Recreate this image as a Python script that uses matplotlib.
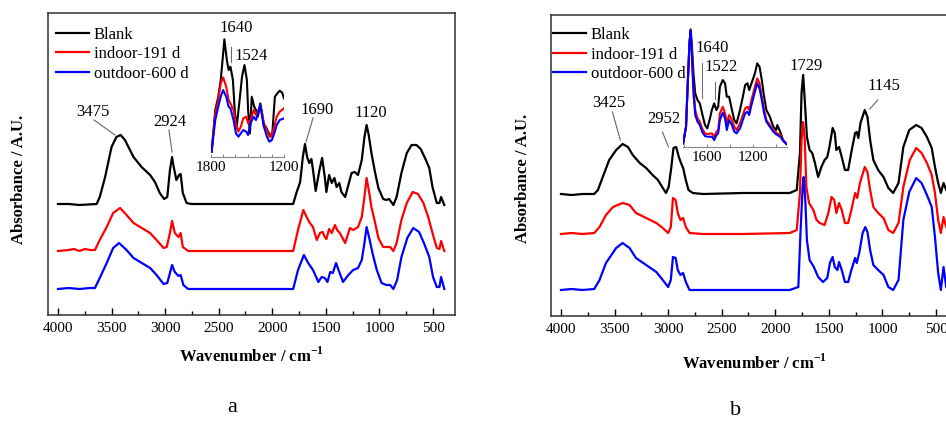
import matplotlib
matplotlib.use('Agg')
import matplotlib.pyplot as plt
from matplotlib.ticker import MultipleLocator, FixedLocator

plt.rcParams['font.family'] = ['Liberation Serif', 'DejaVu Serif']
plt.rcParams['mathtext.fontset'] = 'custom'
plt.rcParams['mathtext.rm'] = 'Liberation Serif'
plt.rcParams['mathtext.bf'] = 'Liberation Serif:bold'

labels = ['Blank', 'indoor-191 d', 'outdoor-600 d']
colors = ['black', 'red', 'blue']

# ---------------- panel a (main spectra, offset A.U.) ----------------
a_blank_wn = [4000, 3900, 3800, 3639, 3610, 3560, 3500, 3455, 3415, 3375, 3295, 3220, 3140, 3095, 3050,
              3010, 2980, 2955, 2935, 2920, 2895, 2870, 2855, 2835, 2800, 2755, 2300, 1805, 1775, 1740,
              1715, 1695, 1675, 1655, 1635, 1620, 1595, 1560, 1535, 1510, 1495, 1470, 1445, 1420, 1400,
              1375, 1355, 1320, 1290, 1260, 1230, 1200, 1165, 1140, 1120, 1100, 1075, 1040, 1010, 965,
              935, 910, 870, 840, 795, 745, 700, 655, 615, 575, 535, 505, 465, 440, 425, 395]
a_blank_y = [1.11, 1.11, 1.10, 1.11, 1.18, 1.38, 1.68, 1.78, 1.80, 1.75, 1.58, 1.48, 1.40, 1.33, 1.22,
             1.16, 1.18, 1.45, 1.58, 1.48, 1.35, 1.40, 1.41, 1.22, 1.12, 1.11, 1.11, 1.11, 1.22, 1.33,
             1.58, 1.71, 1.58, 1.52, 1.56, 1.45, 1.24, 1.45, 1.57, 1.38, 1.23, 1.40, 1.32, 1.37, 1.28,
             1.32, 1.23, 1.18, 1.30, 1.42, 1.43, 1.40, 1.55, 1.78, 1.90, 1.80, 1.62, 1.42, 1.27, 1.16,
             1.15, 1.16, 1.10, 1.18, 1.42, 1.62, 1.70, 1.70, 1.66, 1.57, 1.47, 1.28, 1.12, 1.12, 1.18, 1.10]

a_indoor_wn = [4000, 3900, 3850, 3800, 3750, 3700, 3655, 3610, 3545, 3485, 3420, 3360, 3295, 3140, 3080,
               3015, 2985, 2955, 2935, 2910, 2875, 2855, 2835, 2785, 2300, 1805, 1760, 1710, 1680, 1650,
               1620, 1585, 1555, 1530, 1510, 1495, 1470, 1445, 1415, 1395, 1370, 1320, 1290, 1275, 1245,
               1200, 1165, 1140, 1120, 1095, 1075, 1040, 1010, 965, 935, 900, 870, 840, 795, 745, 690,
               640, 590, 545, 505, 465, 440, 425, 395]
a_indoor_y = [0.64, 0.65, 0.66, 0.64, 0.66, 0.65, 0.65, 0.75, 0.88, 1.02, 1.07, 1.00, 0.92, 0.82, 0.75,
              0.67, 0.68, 0.82, 0.94, 0.82, 0.78, 0.82, 0.68, 0.64, 0.64, 0.64, 0.85, 1.05, 0.98, 0.92,
              0.88, 0.75, 0.82, 0.83, 0.78, 0.76, 0.86, 0.82, 0.90, 0.85, 0.82, 0.72, 0.82, 0.87, 0.85,
              0.88, 0.98, 1.18, 1.37, 1.22, 1.08, 0.92, 0.77, 0.68, 0.68, 0.68, 0.64, 0.72, 0.95, 1.12, 1.23,
              1.21, 1.12, 0.98, 0.82, 0.67, 0.66, 0.74, 0.64]

a_outdoor_wn = [4000, 3900, 3800, 3700, 3655, 3610, 3545, 3485, 3430, 3360, 3295, 3140, 3080, 3015, 2980,
                2955, 2935, 2910, 2875, 2855, 2830, 2785, 2300, 1805, 1760, 1705, 1665, 1620, 1570, 1540,
                1510, 1485, 1460, 1435, 1405, 1375, 1340, 1290, 1245, 1200, 1165, 1140, 1120, 1095, 1065,
                1025, 980, 935, 900, 870, 835, 795, 740, 685, 630, 585, 535, 500, 465, 440, 425, 395]
a_outdoor_y = [0.26, 0.27, 0.26, 0.27, 0.27, 0.37, 0.52, 0.67, 0.72, 0.65, 0.57, 0.47, 0.40, 0.31, 0.32,
               0.42, 0.50, 0.43, 0.39, 0.40, 0.30, 0.26, 0.26, 0.26, 0.45, 0.60, 0.52, 0.45, 0.33, 0.38,
               0.37, 0.33, 0.43, 0.42, 0.52, 0.43, 0.33, 0.40, 0.45, 0.47, 0.55, 0.72, 0.88, 0.77, 0.62,
               0.45, 0.32, 0.30, 0.30, 0.26, 0.35, 0.58, 0.77, 0.87, 0.83, 0.72, 0.58, 0.38, 0.28, 0.28, 0.38, 0.26]

# panel a inset (1800-1200 cm-1)
ai_blank_wn = [1795, 1765, 1740, 1720, 1705, 1690, 1670, 1655, 1640, 1620, 1605, 1590, 1565, 1545, 1525,
               1505, 1495, 1480, 1465, 1445, 1430, 1415, 1395, 1380, 1365, 1350, 1330, 1310, 1295, 1275,
               1255, 1235, 1215, 1200]
ai_blank_y = [0.15, 1.40, 1.80, 2.30, 2.90, 3.52, 2.90, 2.60, 2.70, 2.30, 1.40, 0.85, 1.70, 2.40, 2.75,
              2.30, 1.40, 0.70, 1.80, 1.50, 1.40, 1.20, 1.60, 1.30, 0.90, 0.90, 0.75, 0.60, 0.75, 1.80,
              1.90, 1.98, 1.92, 1.75]
ai_indoor_wn = [1795, 1765, 1740, 1720, 1700, 1675, 1655, 1640, 1615, 1595, 1575, 1555, 1535, 1510, 1495,
                1475, 1450, 1430, 1410, 1395, 1380, 1365, 1340, 1320, 1300, 1280, 1260, 1235, 1200]
ai_indoor_y = [0.15, 1.30, 1.70, 2.20, 2.38, 2.10, 1.70, 1.60, 1.40, 1.00, 0.75, 0.90, 1.15, 1.20, 1.00,
               1.10, 1.40, 1.25, 1.40, 1.50, 1.30, 1.00, 0.80, 0.60, 0.65, 0.90, 1.20, 1.35, 1.45]
ai_outdoor_wn = ai_indoor_wn
ai_outdoor_y = [0.15, 1.10, 1.50, 1.80, 2.00, 1.80, 1.50, 1.45, 1.10, 0.70, 0.60, 0.70, 0.80, 0.75, 0.65,
                1.00, 1.20, 1.10, 1.35, 1.55, 1.20, 0.90, 0.60, 0.45, 0.50, 0.70, 0.95, 1.10, 1.15]

# ---------------- panel b ----------------
b_blank_wn = [4000, 3900, 3800, 3690, 3655, 3610, 3550, 3485, 3425, 3375, 3330, 3265, 3205, 3145, 3095,
              3050, 3020, 2995, 2970, 2950, 2925, 2900, 2880, 2860, 2835, 2810, 2770, 2675, 2300, 1865,
              1800, 1770, 1755, 1740, 1725, 1705, 1680, 1655, 1630, 1600, 1570, 1540, 1515, 1495, 1465,
              1445, 1430, 1405, 1380, 1350, 1320, 1290, 1255, 1240, 1225, 1205, 1165, 1140, 1115, 1085,
              1040, 990, 945, 900, 850, 805, 750, 685, 635, 585, 540, 510, 480, 455, 430, 405, 390]
b_blank_y = [1.22, 1.21, 1.22, 1.22, 1.26, 1.39, 1.56, 1.66, 1.72, 1.69, 1.61, 1.53, 1.48, 1.41, 1.36,
             1.28, 1.23, 1.29, 1.49, 1.68, 1.69, 1.59, 1.53, 1.48, 1.36, 1.26, 1.23, 1.22, 1.23, 1.23,
             1.26, 1.63, 2.23, 2.41, 2.16, 1.79, 1.66, 1.63, 1.53, 1.39, 1.49, 1.56, 1.59, 1.69, 1.88,
             1.83, 1.66, 1.69, 1.59, 1.46, 1.46, 1.64, 1.83, 1.84, 1.78, 1.93, 2.06, 1.99, 1.76, 1.56,
             1.46, 1.39, 1.28, 1.23, 1.33, 1.69, 1.86, 1.91, 1.88, 1.79, 1.68, 1.49, 1.33, 1.23, 1.33, 1.26, 1.24]

b_indoor_wn = [4000, 3900, 3800, 3690, 3640, 3580, 3515, 3425, 3360, 3300, 3205, 3110, 3050, 3000, 2975,
               2955, 2930, 2910, 2885, 2860, 2835, 2800, 2675, 2300, 1865, 1800, 1770, 1755, 1740, 1725,
               1710, 1685, 1645, 1615, 1585, 1540, 1505, 1475, 1450, 1430, 1405, 1380, 1350, 1320, 1290,
               1255, 1235, 1210, 1165, 1140, 1115, 1085, 1040, 990, 945, 900, 850, 805, 745, 685, 635,
               585, 540, 510, 480, 455, 430, 405, 390]
b_indoor_y = [0.82, 0.83, 0.82, 0.83, 0.89, 1.01, 1.09, 1.13, 1.11, 1.03, 0.98, 0.93, 0.88, 0.83, 0.89,
              1.18, 1.16, 1.03, 0.96, 0.98, 0.89, 0.83, 0.82, 0.82, 0.83, 0.86, 1.23, 1.76, 1.94, 1.76,
              1.29, 1.13, 1.06, 0.96, 0.93, 0.91, 1.03, 1.19, 1.16, 1.03, 1.13, 1.06, 0.93, 0.93, 1.06,
              1.23, 1.18, 1.33, 1.49, 1.44, 1.26, 1.09, 1.03, 0.98, 0.86, 0.83, 0.93, 1.29, 1.56, 1.68, 1.63,
              1.53, 1.41, 1.23, 0.96, 0.83, 0.99, 0.89, 0.86]

b_outdoor_wn = [4000, 3900, 3800, 3690, 3640, 3580, 3485, 3425, 3360, 3300, 3205, 3110, 3050, 3000, 2975,
                2955, 2930, 2910, 2885, 2860, 2835, 2800, 2675, 2300, 1865, 1785, 1765, 1745, 1735, 1720,
                1705, 1680, 1640, 1600, 1555, 1515, 1490, 1465, 1445, 1420, 1405, 1380, 1350, 1320, 1290,
                1255, 1240, 1215, 1185, 1160, 1140, 1115, 1085, 1040, 990, 945, 900, 850, 805, 750, 685,
                635, 585, 540, 510, 480, 455, 430, 405, 390]
b_outdoor_y = [0.26, 0.27, 0.26, 0.27, 0.36, 0.53, 0.68, 0.73, 0.68, 0.58, 0.51, 0.44, 0.36, 0.29, 0.36,
               0.59, 0.58, 0.46, 0.41, 0.43, 0.34, 0.26, 0.26, 0.26, 0.26, 0.29, 0.83, 1.29, 1.39, 1.16,
               0.76, 0.56, 0.49, 0.39, 0.34, 0.38, 0.53, 0.59, 0.49, 0.46, 0.54, 0.46, 0.34, 0.34, 0.46,
               0.58, 0.53, 0.64, 0.83, 0.89, 0.84, 0.66, 0.51, 0.46, 0.41, 0.29, 0.26, 0.36, 0.96, 1.24, 1.38,
               1.33, 1.21, 1.09, 0.79, 0.43, 0.26, 0.49, 0.29, 0.27]

# panel b inset (1800-900 cm-1)
bi_wn = [1805, 1780, 1765, 1750, 1740, 1730, 1715, 1700, 1680, 1660, 1640, 1615, 1595, 1575, 1555, 1535,
         1515, 1500, 1485, 1460, 1440, 1425, 1405, 1380, 1360, 1340, 1310, 1285, 1265, 1245, 1230, 1210,
         1180, 1160, 1140, 1120, 1100, 1080, 1050, 1020, 995, 985, 960, 935, 905]
bi_blank_y = [0.10, 0.60, 1.90, 3.10, 3.52, 3.10, 2.20, 1.60, 1.40, 1.30, 1.00, 0.65, 0.55, 0.80, 1.10, 1.30,
              1.10, 1.20, 1.80, 2.00, 1.90, 1.50, 1.50, 1.10, 0.80, 0.70, 1.10, 1.50, 1.85, 1.90, 1.70, 1.90,
              2.20, 2.50, 2.40, 2.00, 1.50, 1.10, 0.90, 0.60, 0.50, 0.65, 0.45, 0.20, 0.08]
bi_indoor_y = [0.10, 0.60, 1.90, 3.10, 3.48, 2.90, 1.80, 1.10, 0.85, 0.75, 0.55, 0.40, 0.38, 0.39, 0.40, 0.30,
               0.45, 0.50, 1.00, 1.20, 1.00, 0.70, 0.95, 0.80, 0.60, 0.50, 0.70, 0.95, 1.15, 1.20, 1.10, 1.40,
               1.80, 2.05, 1.90, 1.50, 1.10, 0.80, 0.65, 0.50, 0.42, 0.40, 0.35, 0.20, 0.08]
bi_outdoor_y = [0.10, 0.60, 1.90, 3.10, 3.48, 2.80, 1.60, 0.95, 0.75, 0.65, 0.45, 0.32, 0.30, 0.30, 0.30, 0.20,
                0.35, 0.40, 0.80, 1.02, 0.85, 0.50, 0.80, 0.65, 0.45, 0.40, 0.55, 0.80, 1.00, 1.05, 0.95, 1.25,
                1.65, 1.90, 1.75, 1.40, 1.00, 0.75, 0.60, 0.45, 0.37, 0.35, 0.30, 0.18, 0.08]

fig = plt.figure(figsize=(9.46, 4.23), dpi=100)

def style_main(ax):
    ax.set_xlim(4093, 295)
    ax.xaxis.set_major_locator(MultipleLocator(500))
    ax.xaxis.set_minor_locator(MultipleLocator(250))
    ax.tick_params(axis='x', which='major', direction='in', length=5, width=1.0,
                   labelsize=11, top=False, pad=5)
    ax.tick_params(axis='x', which='minor', direction='in', length=3, width=1.0, top=False)
    ax.set_yticks([])
    for s in ax.spines.values():
        s.set_linewidth(1.2)
        s.set_color('#404040')
    ax.set_xlabel(r'Wavenumber / cm$^{\mathbf{-1}}$', fontsize=12, fontweight='bold')
    ax.set_ylabel('Absorbance / A.U.', fontsize=12, fontweight='bold')

def style_inset(ax, xlim, major, minor):
    ax.set_xlim(*xlim)
    ax.set_ylim(0, 3.6)
    ax.patch.set_alpha(0)
    for k in ['top', 'left', 'right']:
        ax.spines[k].set_visible(False)
    ax.spines['bottom'].set_color('#888888')
    ax.spines['bottom'].set_linewidth(0.8)
    ax.set_yticks([])
    ax.xaxis.set_major_locator(FixedLocator(major))
    ax.xaxis.set_minor_locator(FixedLocator(minor))
    ax.tick_params(axis='x', which='both', direction='in', length=2.5, width=0.7,
                   color='#888888', labelsize=11, pad=3)

def leader(ax, p0, p1):
    ax.plot([p0[0], p1[0]], [p0[1], p1[1]], color='#666666', lw=0.8)

# ---- panel a ----
axa = fig.add_axes([48/946, 1 - 315/423, 407/946, 302/423])
axa.plot(a_blank_wn, a_blank_y, color=colors[0], lw=1.6, label=labels[0])
axa.plot(a_indoor_wn, a_indoor_y, color=colors[1], lw=1.6, label=labels[1])
axa.plot(a_outdoor_wn, a_outdoor_y, color=colors[2], lw=1.6, label=labels[2])
axa.set_ylim(0, 3.02)
style_main(axa)
axa.xaxis.set_label_coords(0.5, -0.105)
axa.yaxis.set_label_coords(-0.052, 0.45)
axa.legend(loc='upper left', bbox_to_anchor=(0.02, 0.955), frameon=False, fontsize=12,
           handlelength=1.95, handletextpad=0.3, labelspacing=0.21, borderpad=0, borderaxespad=0)
axa.text(3673, 2.03, '3475', fontsize=12, ha='center', va='center')
leader(axa, (3664, 1.95), (3468, 1.80))
axa.text(2955, 1.93, '2924', fontsize=12, ha='center', va='center')
leader(axa, (2964, 1.85), (2936, 1.63))
axa.text(1583, 2.05, '1690', fontsize=12, ha='center', va='center')
leader(axa, (1620, 1.97), (1685, 1.73))
axa.text(1079, 2.02, '1120', fontsize=12, ha='center', va='center')

axai = fig.add_axes([211/946, 1 - 156.7/423, 73/946, 120/423])
axai.plot(ai_blank_wn, ai_blank_y, color=colors[0], lw=1.5)
axai.plot(ai_indoor_wn, ai_indoor_y, color=colors[1], lw=1.5)
axai.plot(ai_outdoor_wn, ai_outdoor_y, color=colors[2], lw=1.5)
style_inset(axai, (1800, 1200), [1800, 1200], [1700, 1600, 1500, 1400, 1300])
axai.text(1595, 3.86, '1640', fontsize=12, ha='center', va='center', clip_on=False)
axai.plot([1636, 1636], [3.29, 2.84], color='#666666', lw=0.8, clip_on=False)
axai.text(1471, 3.02, '1524', fontsize=12, ha='center', va='center')

fig.text(232/946, 1 - 407/423, 'a', fontsize=16, ha='center', va='center')

# ---- panel b ----
axb = fig.add_axes([551/946, 1 - 316/423, 407/946, 301/423])
axb.plot(b_blank_wn, b_blank_y, color=colors[0], lw=1.6, label=labels[0])
axb.plot(b_indoor_wn, b_indoor_y, color=colors[1], lw=1.6, label=labels[1])
axb.plot(b_outdoor_wn, b_outdoor_y, color=colors[2], lw=1.6, label=labels[2])
axb.set_ylim(0, 3.01)
style_main(axb)
axb.xaxis.set_label_coords(0.5, -0.125)
axb.yaxis.set_label_coords(-0.049, 0.458)
axb.legend(loc='upper left', bbox_to_anchor=(0.005, 0.96), frameon=False, fontsize=12,
           handlelength=1.95, handletextpad=0.3, labelspacing=0.21, borderpad=0, borderaxespad=0)
axb.text(3558, 2.13, '3425', fontsize=12, ha='center', va='center')
leader(axb, (3520, 2.04), (3446, 1.76))
axb.text(3044, 1.97, '2952', fontsize=12, ha='center', va='center')
leader(axb, (3053, 1.84), (2997, 1.69))
axb.text(1715, 2.50, '1729', fontsize=12, ha='center', va='center')
axb.text(987, 2.30, '1145', fontsize=12, ha='center', va='center')
leader(axb, (1044, 2.16), (1118, 2.07))

axbi = fig.add_axes([682.7/946, 1 - 146.7/423, 104.6/946, 120/423])
axbi.plot(bi_wn, bi_blank_y, color=colors[0], lw=1.5)
axbi.plot(bi_wn, bi_indoor_y, color=colors[1], lw=1.5)
axbi.plot(bi_wn, bi_outdoor_y, color=colors[2], lw=1.5)
style_inset(axbi, (1809, 898), [1600, 1200], [1800, 1400, 1000])
axbi.text(1554, 2.96, '1640', fontsize=12, ha='center', va='center')
axbi.plot([1641, 1641], [2.51, 1.46], color='#666666', lw=0.7)
axbi.text(1476, 2.39, '1522', fontsize=12, ha='center', va='center')
axbi.plot([1528, 1528], [1.94, 1.43], color='#666666', lw=0.7)

fig.text(736/946, 1 - 410/423, 'b', fontsize=16, ha='center', va='center')

fig.savefig('out.png', dpi=100)
